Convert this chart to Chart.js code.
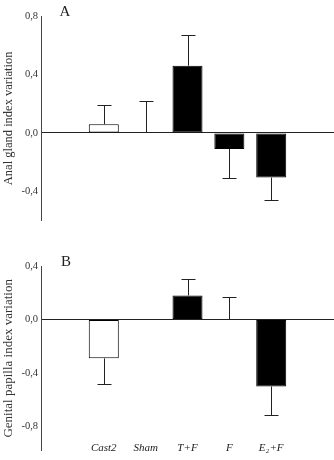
<!DOCTYPE html>
<html>
<head>
<meta charset="utf-8">
<script src="https://cdn.jsdelivr.net/npm/chart.js@4/dist/chart.umd.min.js"></script>
<style>
  html, body { margin: 0; padding: 0; background: #fff; }
  #wrap { position: relative; width: 334px; height: 460px; }
  .panel { position: absolute; left: 0; width: 334px; height: 230px; }
</style>
</head>
<body>
<div id="wrap">
  <div class="panel" style="top:0"><canvas id="chartA"></canvas></div>
  <div class="panel" style="top:230px"><canvas id="chartB"></canvas></div>
</div>
<script>
// categories (empty slots left and right, as in the figure)
var categories = ['', 'Cast2', 'Sham', 'T+F', 'F', 'E\u2082+F', ''];

// A - anal gland index variation
var analValues = [null, 0.06, 0, 0.46, -0.11, -0.305, null];
var analErr    = [null, 0.13, 0.22, 0.21, 0.20, 0.155, null];
var ticksA = [-0.4, 0, 0.4, 0.8];

// B - genital papilla index variation
var papillaValues = [null, -0.29, 0, 0.18, 0, -0.50, null];
var papillaErr    = [null, 0.19, 0, 0.12, 0.17, 0.215, null];
var ticksB = [-0.8, -0.4, 0, 0.4];

var serif = "'Liberation Serif', 'DejaVu Serif', serif";
var barColors = ['#fff', '#fff', '#fff', '#000', '#000', '#000', '#fff'];

// error bars drawn away from zero, one side only
var errorBars = {
    id: 'errorBars',
    afterDatasetsDraw: function(chart) {
        var ctx = chart.ctx;
        var meta = chart.getDatasetMeta(0);
        var y = chart.scales.y;
        var vals = chart.data.datasets[0].data;
        var errs = chart.options.plugins.errorBars.errors;
        ctx.save();
        ctx.strokeStyle = '#222';
        ctx.lineWidth = 1;
        meta.data.forEach(function(bar, i) {
            var v = vals[i], e = errs[i];
            if (v === null || !e) return;
            var end = v >= 0 ? v + e : v - e;
            var y0 = y.getPixelForValue(v);
            var y1 = y.getPixelForValue(end);
            var x = Math.round(bar.x) + 0.5;
            y1 = Math.round(y1) + 0.5;
            ctx.beginPath();
            ctx.moveTo(x, y0);
            ctx.lineTo(x, y1);
            ctx.moveTo(x - 7, y1);
            ctx.lineTo(x + 7, y1);
            ctx.stroke();
        });
        ctx.restore();
    }
};

// panel letter and (for B) italic group labels
var extraText = {
    id: 'extraText',
    afterDraw: function(chart) {
        var o = chart.options.plugins.extraText;
        var ctx = chart.ctx;
        ctx.save();
        ctx.fillStyle = '#222';
        ctx.textAlign = 'center';
        ctx.textBaseline = 'middle';
        ctx.font = '15px ' + serif;
        ctx.fillText(o.letter, o.letterX, o.letterY);
        if (o.showLabels) {
            var xs = chart.scales.x;
            ctx.font = 'italic 11px ' + serif;
            categories.forEach(function(c, i) {
                if (c) ctx.fillText(c, xs.getPixelForValue(i), o.labelY);
            });
        }
        ctx.restore();
    }
};

function makeChart(id, values, errs, tickVals, min, max, title, titleSize, padTop, extra) {
    return new Chart(document.getElementById(id), {
        type: 'bar',
        data: {
            labels: categories,
            datasets: [{
                data: values,
                backgroundColor: barColors,
                borderColor: '#000',
                borderWidth: 1,
                borderSkipped: false,
                categoryPercentage: 1,
                barPercentage: 0.717
            }]
        },
        plugins: [errorBars, extraText],
        options: {
            responsive: true,
            maintainAspectRatio: false,
            animation: false,
            layout: { padding: { left: 0, right: 0, top: padTop, bottom: 7 } },
            plugins: {
                legend: { display: false },
                tooltip: { enabled: false },
                errorBars: { errors: errs },
                extraText: extra
            },
            scales: {
                x: { display: false },
                y: {
                    min: min,
                    max: max,
                    afterBuildTicks: function(s) {
                        s.ticks = tickVals.map(function(v) { return { value: v }; });
                    },
                    afterFit: function(s) { s.width = 41; },
                    border: { display: true, color: '#444', width: 1 },
                    grid: {
                        drawTicks: false,
                        color: function(c) { return c.tick && c.tick.value === 0 ? '#222' : 'rgba(0,0,0,0)'; }
                    },
                    ticks: {
                        padding: 3,
                        color: '#333',
                        font: { family: serif, size: 10.5 },
                        callback: function(v) { return v.toFixed(1).replace('.', ','); }
                    },
                    title: {
                        display: true,
                        text: title,
                        color: '#333',
                        padding: { top: 1, bottom: 0 },
                        font: { family: serif, size: titleSize }
                    }
                }
            }
        }
    });
}

makeChart('chartA', analValues, analErr, ticksA, -0.6, 0.8,
    'Anal gland index variation', 12.5, 16,
    { letter: 'A', letterX: 65, letterY: 12, showLabels: false });

makeChart('chartB', papillaValues, papillaErr, ticksB, -0.98, 0.4,
    'Genital papilla index variation', 13, 36,
    { letter: 'B', letterX: 66, letterY: 32, showLabels: true, labelY: 218 });
</script>
</body>
</html>
